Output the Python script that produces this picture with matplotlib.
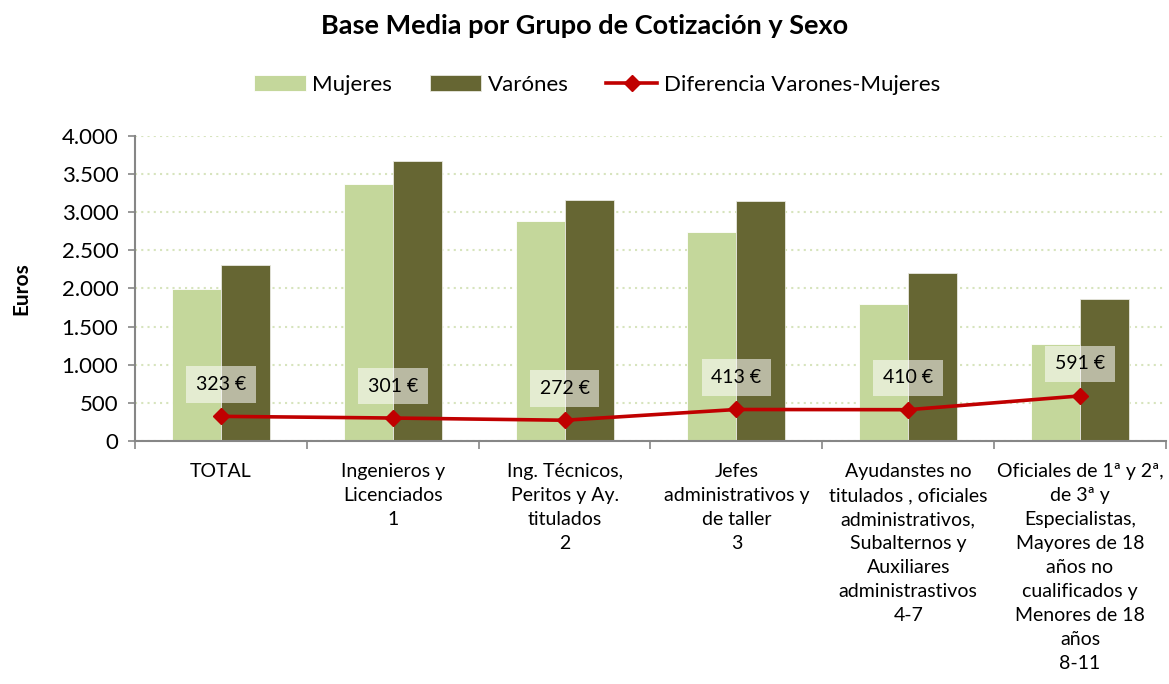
"""Base media por grupo de cotización y sexo."""
import numpy as np
import matplotlib.pyplot as plt
from matplotlib.ticker import FuncFormatter, FixedLocator

plt.rcParams['font.family'] = ['Lato', 'DejaVu Sans']

categorias = [
    "TOTAL",
    "Ingenieros y\nLicenciados\n1",
    "Ing. Técnicos,\nPeritos y Ay.\ntitulados\n2",
    "Jefes\nadministrativos y\nde taller\n3",
    "Ayudanstes no\ntitulados , oficiales\nadministrativos,\nSubalternos y\nAuxiliares\nadministrastivos\n4-7",
    "Oficiales de 1ª y 2ª,\nde 3ª y\nEspecialistas,\nMayores de 18\naños no\ncualificados y\nMenores de 18\naños\n8-11",
]
mujeres = [1990, 3367, 2891, 2740, 1797, 1272]
varones = [2313, 3668, 3163, 3153, 2207, 1863]
diferencia = [323, 301, 272, 413, 410, 591]

c_muj = '#c4d79b'
c_var = '#666633'
c_dif = '#c00000'
c_grid = '#d7e4bd'
c_axis = '#868686'

fig = plt.figure(figsize=(11.69, 6.84), dpi=100)
ax = fig.add_axes([0.1155, 0.3553, 0.8819, 0.4459])

x = np.arange(len(categorias))
w = 0.285
b1 = ax.bar(x - w / 2, mujeres, w, color=c_muj, edgecolor='white', linewidth=0.6, label='Mujeres', zorder=2)
b2 = ax.bar(x + w / 2, varones, w, color=c_var, edgecolor='#e8e8e0', linewidth=0.6, label='Varónes', zorder=2)
ln, = ax.plot(x, diferencia, color=c_dif, lw=2.6, marker='D', ms=8, label='Diferencia Varones-Mujeres', zorder=4)

for xi, d in zip(x, diferencia):
    ax.annotate(f"{d} €", (xi, d), xytext=(0, 23), textcoords='offset points',
                ha='center', va='center', fontsize=14, zorder=5,
                bbox=dict(boxstyle='square,pad=0.5', fc='white', ec='none', alpha=0.55))

ax.set_xlim(-0.5, len(categorias) - 0.5)
ax.set_ylim(0, 4000)
ax.set_yticks(np.arange(0, 4001, 500))
ax.yaxis.set_major_formatter(FuncFormatter(lambda v, p: f"{int(v):,}".replace(',', '.')))
ax.grid(axis='y', color=c_grid, linestyle=(0, (1, 2)), lw=1.5, zorder=0)
ax.set_axisbelow(True)

ax.set_xticks(x)
ax.set_xticklabels(categorias, fontsize=14, linespacing=1.5, va='top')
ax.tick_params(axis='x', length=0, pad=16)
ax.xaxis.set_minor_locator(FixedLocator(np.arange(-0.5, len(categorias), 1)))
ax.tick_params(axis='x', which='minor', length=6, color=c_axis, width=1.2)
ax.tick_params(axis='y', labelsize=16, length=5, color=c_axis, width=1.2, pad=7)

for s in ['top', 'right']:
    ax.spines[s].set_visible(False)
for s in ['left', 'bottom']:
    ax.spines[s].set_color(c_axis)
    ax.spines[s].set_linewidth(1.5)

ax.set_ylabel('Euros', fontsize=15, fontweight='bold', labelpad=22)
fig.suptitle('Base Media por Grupo de Cotización y Sexo', fontsize=19.5, fontweight='bold', y=0.98)
fig.legend([b1, b2, ln], ['Mujeres', 'Varónes', 'Diferencia Varones-Mujeres'],
           loc='center', bbox_to_anchor=(0.511, 0.876), ncol=3, frameon=False, fontsize=16,
           handlelength=2.3, columnspacing=1.7, handletextpad=0.3)

fig.savefig('out.png', dpi=100)
